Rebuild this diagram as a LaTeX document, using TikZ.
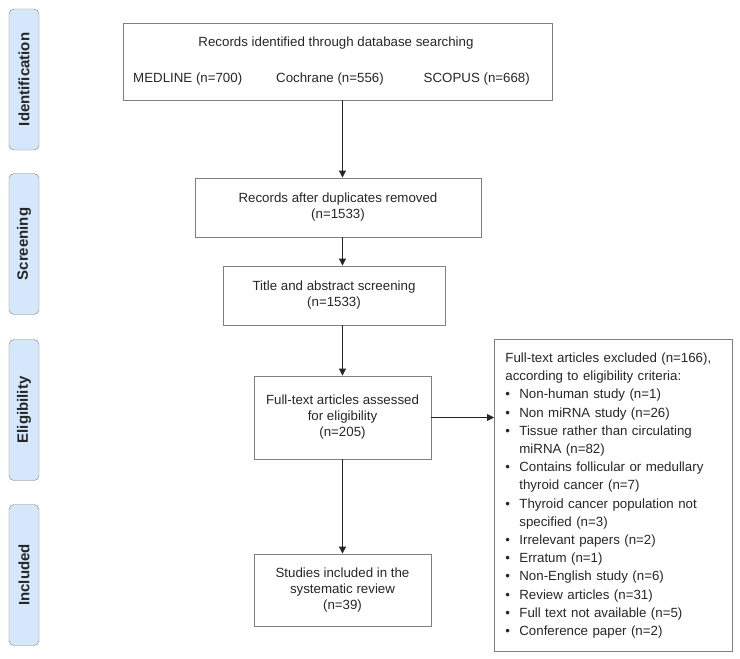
\documentclass[tikz,border=0pt]{standalone}
\usepackage{fontspec}
\setmainfont{Liberation Sans}
\usetikzlibrary{arrows.meta}

\definecolor{stagefill}{HTML}{D5E8FB}
\definecolor{boxline}{HTML}{7F7F7F}
\newcommand{\exhead}[1]{\multicolumn{2}{@{}l@{}}{#1}}

\begin{document}
\begin{tikzpicture}[x=1pt,y=-1pt,
    stage/.style={draw=boxline,fill=stagefill,rounded corners=5pt,rotate=90,inner sep=0pt,
        minimum width=141pt,minimum height=30pt,text=black!85,
        font=\fontsize{15}{18}\selectfont\bfseries},
    box/.style={draw=boxline,line width=0.8pt,align=center,inner sep=0pt,text=black!85,
        font=\fontsize{13.3}{16}\selectfont},
    txt/.style={inner sep=0pt,text=black!85,font=\fontsize{13.3}{16}\selectfont},
    arr/.style={-{Triangle[width=7pt,length=7pt]},line width=0.8pt,draw=black!85}]
    \useasboundingbox (0,0) rectangle (740,659);

    \node[stage] (identification) at (24,79.5) {Identification};
    \node[stage] (screening) at (24,244) {Screening};
    \node[stage] (eligibility) at (24,410) {Eligibility};
    \node[stage] (included) at (24,575) {Included};

    \node[box,minimum width=429pt,minimum height=77pt] (ident) at (337.5,61.5) {};
    \node[txt,anchor=base] (identtitle) at (336,46.5) {Records identified through database searching};
    \node[txt,anchor=base west] (medline) at (133,82.5) {MEDLINE (n=700)};
    \node[txt,anchor=base west] (cochrane) at (276,82.5) {Cochrane (n=556)};
    \node[txt,anchor=base east] (scopus) at (530,82.5) {SCOPUS (n=668)};

    \node[box,minimum width=286pt,minimum height=59pt] (dupl) at (338,207.5) {Records after duplicates removed\\(n=1533)};
    \node[box,minimum width=222pt,minimum height=59pt] (abstr) at (334,295.5) {Title and abstract screening\\(n=1533)};
    \node[box,minimum width=177pt,minimum height=83pt] (fulltext) at (342.5,417.5) {Full-text articles assessed\\for eligibility\\(n=205)};
    \node[box,minimum width=177pt,minimum height=72pt] (studies) at (342.5,590) {Studies included in the\\systematic review\\(n=39)};

    \node[box,anchor=north west,align=left,inner xsep=11pt,text width=216pt,minimum width=238pt,
        minimum height=312pt,font=\fontsize{13.3}{18.2}\selectfont] (excl) at (494,339)
        {\begin{tabular}{@{}p{14pt}@{}l@{}}
        \exhead{Full-text articles excluded (n=166),}\\
        \exhead{according to eligibility criteria:}\\
        \textbullet & Non-human study (n=1)\\
        \textbullet & Non miRNA study (n=26)\\
        \textbullet & Tissue rather than circulating\\
                    & miRNA (n=82)\\
        \textbullet & Contains follicular or medullary\\
                    & thyroid cancer (n=7)\\
        \textbullet & Thyroid cancer population not\\
                    & specified (n=3)\\
        \textbullet & Irrelevant papers (n=2)\\
        \textbullet & Erratum (n=1)\\
        \textbullet & Non-English study (n=6)\\
        \textbullet & Review articles (n=31)\\
        \textbullet & Full text not available (n=5)\\
        \textbullet & Conference paper (n=2)
        \end{tabular}};

    \draw[arr] (ident.south -| fulltext.center) -- (dupl.north -| fulltext.center);
    \draw[arr] (dupl.south -| fulltext.center) -- (abstr.north -| fulltext.center);
    \draw[arr] (abstr.south -| fulltext.center) -- (fulltext.north);
    \draw[arr] (fulltext.south) -- (studies.north);
    \draw[arr] (fulltext.east) -- (excl.west |- fulltext.east);
\end{tikzpicture}
\end{document}
